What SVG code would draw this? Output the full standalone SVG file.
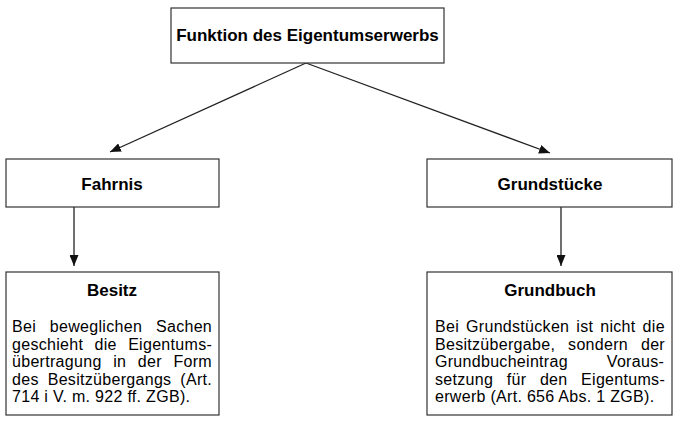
<svg xmlns="http://www.w3.org/2000/svg" width="678" height="422" viewBox="0 0 678 422">
  <defs>
    <style>
      .box { fill: #ffffff; stroke: #333333; stroke-width: 1.2; }
      .title { font-family: "Liberation Sans", Arial, sans-serif; font-size: 17px; font-weight: bold; fill: #000000; text-anchor: middle; }
      .body { font-family: "Liberation Sans", Arial, sans-serif; font-size: 16px; letter-spacing: 0.3px; fill: #000000; }
      .conn { stroke: #222222; stroke-width: 1.3; fill: none; marker-end: url(#arrow); }
    </style>
    <marker id="arrow" markerUnits="userSpaceOnUse" markerWidth="11" markerHeight="9" refX="11" refY="4.5" orient="auto">
      <path d="M0,0 L11,4.5 L0,9 z" fill="#111111"/>
    </marker>
  </defs>
  <rect width="678" height="422" fill="#ffffff"/>

  <g id="connectors">
    <line class="conn" x1="306" y1="63" x2="110" y2="152"/>
    <line class="conn" x1="306" y1="63" x2="550" y2="153"/>
    <line class="conn" x1="74" y1="207" x2="74" y2="266"/>
    <line class="conn" x1="561" y1="207" x2="561" y2="266"/>
  </g>

  <g id="node-funktion">
    <rect class="box" x="171" y="8" width="273" height="55"/>
    <text class="title" x="307.5" y="41">Funktion des Eigentumserwerbs</text>
  </g>

  <g id="node-fahrnis">
    <rect class="box" x="6" y="159" width="213" height="48"/>
    <text class="title" x="112" y="190">Fahrnis</text>
  </g>

  <g id="node-grundstuecke">
    <rect class="box" x="427" y="159" width="245" height="48"/>
    <text class="title" x="550" y="190">Grundstücke</text>
  </g>

  <g id="node-besitz">
    <rect class="box" x="6" y="272" width="213" height="143"/>
    <text class="title" x="112" y="296">Besitz</text>
    <text class="body" x="12" y="332" word-spacing="9.1">Bei beweglichen Sachen</text>
    <text class="body" x="12" y="349.6" word-spacing="6.6">geschieht die Eigentums-</text>
    <text class="body" x="12" y="367.2" word-spacing="6.85">übertragung in der Form</text>
    <text class="body" x="12" y="384.8" word-spacing="4.25">des Besitzübergangs (Art.</text>
    <text class="body" x="12" y="402.4">714 i V. m. 922 ff. ZGB).</text>
  </g>

  <g id="node-grundbuch">
    <rect class="box" x="427" y="272" width="245" height="143"/>
    <text class="title" x="550" y="296">Grundbuch</text>
    <text class="body" x="435" y="332" word-spacing="2.3">Bei Grundstücken ist nicht die</text>
    <text class="body" x="435" y="349.6" word-spacing="8.2">Besitzübergabe, sondern der</text>
    <text class="body" x="435" y="367.2" word-spacing="34.2">Grundbucheintrag Voraus-</text>
    <text class="body" x="435" y="384.8" word-spacing="8.85">setzung für den Eigentums-</text>
    <text class="body" x="435" y="402.4">erwerb (Art. 656 Abs. 1 ZGB).</text>
  </g>
</svg>
